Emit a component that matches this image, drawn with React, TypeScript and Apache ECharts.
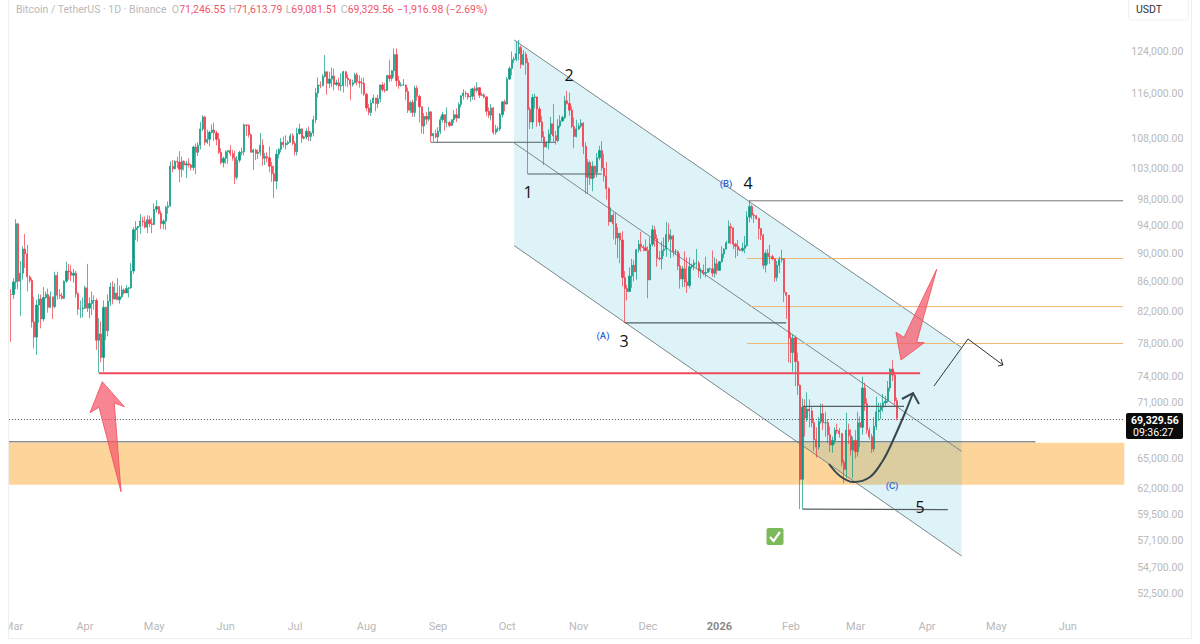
import React, { useEffect, useRef } from "react";
import * as echarts from "echarts";

const FONT = "Roboto, 'Open Sans', sans-serif";

// Daily candles in thousands of USDT: [open, close, low, high]
const feb25 = [[84.3,84.3,78.2,85.0]];
const mar25 = [[84.3,86.0,83.7,86.5],[86.0,94.3,85.0,95.0],[94.3,86.1,85.0,94.4],[86.1,87.2,81.5,88.9],[87.2,90.6,86.3,91.0],[90.6,89.9,87.9,92.8],[89.9,86.7,84.7,91.2],[86.7,86.2,85.9,86.9],[86.2,80.7,80.0,86.5],[80.7,78.8,77.4,84.0],[78.8,82.9,76.6,83.6],[82.9,83.7,80.6,84.4],[83.7,81.1,79.9,84.3],[81.1,83.9,80.8,85.3],[83.9,84.3,83.7,84.7],[84.3,82.6,81.9,85.1],[82.6,84.0,82.5,84.7],[84.0,82.7,81.1,84.0],[82.7,86.9,82.5,87.4],[86.9,84.2,83.6,87.4],[84.2,84.1,83.7,85.0],[84.1,83.8,83.6,84.5],[83.8,86.1,83.7,86.2],[86.1,87.5,85.9,88.8],[87.5,87.4,86.3,88.5],[87.4,86.9,86.1,88.3],[86.9,87.2,85.9,87.8],[87.2,84.4,83.9,87.5],[84.4,82.4,81.6,84.6],[82.4,82.4,81.2,83.5],[82.4,82.5,81.3,83.9]];
const apr25 = [[82.5,85.2,82.4,85.5],[85.2,82.5,82.0,88.5],[82.5,83.1,81.2,83.9],[83.1,83.5,81.6,84.7],[83.5,83.5,82.3,84.2],[83.5,78.4,77.2,83.8],[78.4,79.2,74.5,81.2],[79.2,76.3,75.7,80.8],[76.3,82.6,74.6,83.5],[82.6,79.6,78.4,82.7],[79.6,83.4,78.9,84.3],[83.4,85.3,82.8,85.9],[85.3,83.7,83.0,86.1],[83.7,84.5,83.6,85.8],[84.5,83.6,83.6,86.5],[83.6,84.0,83.1,85.5],[84.0,84.9,83.8,85.5],[84.9,84.5,84.3,85.1],[84.5,85.1,84.5,85.6],[85.1,85.2,83.9,85.3],[85.2,87.5,85.1,88.6],[87.5,93.4,87.1,93.8],[93.4,93.7,91.9,94.7],[93.7,93.9,91.7,94.0],[93.9,94.7,92.8,95.8],[94.7,94.6,93.9,95.3],[94.6,93.8,93.6,95.4],[93.8,94.9,92.9,95.6],[94.9,94.3,93.8,95.5],[94.3,94.2,92.9,95.2]];
const may25 = [[94.2,96.5,94.1,97.4],[96.5,96.9,96.0,97.9],[96.9,95.9,95.7,97.0],[95.9,94.3,93.5,96.3],[94.3,94.7,93.5,95.0],[94.7,96.8,93.4,97.0],[96.8,97.0,95.8,97.7],[97.0,103.3,96.9,104.1],[103.3,102.9,102.3,104.3],[102.9,104.1,102.8,104.3],[104.1,104.0,103.0,104.9],[104.0,102.8,100.7,105.8],[102.8,104.1,101.5,104.9],[104.1,103.5,102.6,104.3],[103.5,103.7,101.4,104.2],[103.7,103.5,103.1,104.6],[103.5,103.1,102.6,103.7],[103.1,106.5,102.6,106.7],[106.5,105.6,102.0,107.1],[105.6,106.8,105.0,107.3],[106.8,109.6,106.1,110.8],[109.6,111.7,109.2,112.0],[111.7,107.3,106.8,111.9],[107.3,107.8,107.0,109.5],[107.8,109.0,106.6,109.3],[109.0,109.4,108.8,110.4],[109.4,108.9,107.5,110.7],[108.9,107.8,106.8,109.3],[107.8,105.6,105.3,108.9],[105.6,103.9,103.6,106.3],[103.9,104.6,103.1,104.9]];
const jun25 = [[104.6,105.7,103.7,105.9],[105.7,105.9,103.7,105.9],[105.9,105.4,105.0,106.8],[105.4,104.7,104.2,106.0],[104.7,101.5,100.4,105.9],[101.5,104.3,101.1,105.0],[104.3,105.6,103.9,105.9],[105.6,105.7,105.1,106.4],[105.7,110.3,105.1,110.5],[110.3,110.2,108.4,110.4],[110.2,108.6,108.1,110.4],[108.6,105.6,105.6,108.8],[105.6,106.0,102.7,106.2],[106.0,105.4,104.3,106.2],[105.4,105.6,104.5,106.1],[105.6,106.8,105.0,108.9],[106.8,104.6,103.4,107.8],[104.6,104.9,103.5,105.5],[104.9,104.7,103.9,105.6],[104.7,103.3,102.3,106.6],[103.3,102.1,100.8,104.0],[102.1,100.9,98.2,103.4],[100.9,105.3,99.6,106.1],[105.3,106.1,104.6,106.3],[106.1,107.3,105.6,108.0],[107.3,106.9,106.4,108.3],[106.9,107.1,106.1,108.5],[107.1,107.3,106.8,107.6],[107.3,108.4,107.2,108.8],[108.4,107.1,106.8,108.8]];
const jul25 = [[107.1,105.7,105.1,107.5],[105.7,108.8,105.1,109.8],[108.8,109.6,108.6,110.5],[109.6,108.0,107.2,109.7],[108.0,108.2,107.8,108.4],[108.2,109.2,107.8,109.7],[109.2,108.3,107.5,110.0],[108.3,108.9,107.5,109.2],[108.9,111.2,108.3,111.9],[111.2,116.0,110.6,116.9],[116.0,117.5,115.2,118.9],[117.5,117.4,116.9,118.2],[117.4,119.1,117.2,119.5],[119.1,120.0,118.9,123.2],[120.0,117.8,115.7,120.0],[117.8,118.6,116.9,120.0],[118.6,119.2,117.1,120.8],[119.2,117.6,116.5,120.6],[117.6,117.9,117.3,118.5],[117.9,117.3,116.5,118.9],[117.3,117.4,116.4,119.7],[117.4,120.0,116.1,120.2],[120.0,118.8,117.3,120.1],[118.8,118.5,117.1,119.5],[118.5,117.6,114.7,118.6],[117.6,117.9,117.2,118.5],[117.9,119.4,117.8,119.8],[119.4,118.1,117.4,119.8],[118.1,117.9,117.0,119.3],[117.9,117.8,115.8,118.8],[117.8,115.8,115.5,118.9]];
const aug25 = [[115.8,113.3,112.7,116.0],[113.3,112.5,112.0,114.0],[112.5,114.2,111.9,114.8],[114.2,115.1,114.1,115.7],[115.1,114.1,112.7,115.1],[114.1,115.0,113.3,115.7],[115.0,117.5,114.3,117.6],[117.5,116.6,116.3,118.0],[116.6,116.5,116.1,117.9],[116.5,119.3,116.5,119.3],[119.3,118.7,118.1,122.3],[118.7,120.2,118.2,120.3],[120.2,123.3,118.9,124.5],[123.3,118.3,117.2,124.5],[118.3,117.4,116.8,119.2],[117.4,117.5,117.2,118.0],[117.5,117.5,117.3,118.6],[117.5,116.3,114.7,117.6],[116.3,112.9,112.4,117.0],[112.9,114.3,112.4,114.6],[114.3,112.5,111.7,114.8],[112.5,116.9,111.7,117.4],[116.9,115.4,114.6,117.4],[115.4,113.5,110.7,115.7],[113.5,110.1,108.8,113.6],[110.1,111.8,108.7,112.4],[111.8,111.3,110.4,112.6],[111.3,112.6,110.9,113.5],[112.6,108.4,107.3,112.7],[108.4,108.8,107.5,108.9],[108.8,108.2,108.0,109.5]];
const sep25 = [[108.2,109.2,107.3,109.9],[109.2,111.2,108.7,111.8],[111.2,112.1,110.7,112.6],[112.1,110.7,109.3,112.2],[110.7,110.7,109.9,113.4],[110.7,110.2,109.9,111.0],[110.2,111.2,110.1,111.3],[111.2,112.1,110.6,112.9],[112.1,111.5,110.8,113.2],[111.5,113.9,111.4,114.3],[113.9,115.5,113.4,115.6],[115.5,116.0,114.8,116.7],[116.0,115.9,115.2,116.4],[115.9,115.3,114.8,116.0],[115.3,115.4,114.4,116.8],[115.4,116.8,114.8,117.0],[116.8,116.5,114.7,117.3],[116.5,117.0,116.1,118.0],[117.0,115.6,115.1,117.1],[115.6,115.7,115.4,116.1],[115.7,115.3,115.0,115.9],[115.3,112.7,111.9,115.4],[112.7,112.0,111.5,113.4],[112.0,113.3,111.1,114.0],[113.3,109.0,108.6,113.5],[109.0,109.6,108.6,110.3],[109.6,109.6,109.1,110.0],[109.6,112.1,109.2,112.4],[112.1,114.4,111.6,114.5],[114.4,114.0,112.7,114.8]];
const oct25 = [[114.0,118.6,113.9,119.0],[118.6,120.6,118.4,121.0],[120.6,122.3,119.3,123.9],[122.3,122.4,121.6,122.9],[122.4,123.5,122.0,125.8],[123.5,124.7,122.2,126.2],[124.7,121.4,120.6,125.1],[121.4,123.3,121.2,124.2],[123.3,121.7,119.4,123.8],[121.7,113.0,102.0,122.6],[113.0,110.8,109.6,113.4],[110.8,115.2,109.6,115.8],[115.2,115.3,113.2,115.9],[115.3,113.1,110.0,113.7],[113.1,110.8,110.1,113.6],[110.8,108.2,107.5,111.9],[108.2,106.5,103.5,109.2],[106.5,107.2,106.4,107.5],[107.2,108.7,106.1,109.5],[108.7,110.5,107.5,111.7],[110.5,108.4,107.4,114.0],[108.4,107.6,106.9,109.2],[107.6,110.1,107.3,111.3],[110.1,111.0,109.7,112.0],[111.0,111.6,110.8,111.9],[111.6,114.6,111.3,115.5],[114.6,114.1,113.9,116.4],[114.1,112.9,111.9,116.1],[112.9,110.0,109.7,113.6],[110.0,108.3,106.3,111.6],[108.3,109.6,108.1,111.2]];
const nov25 = [[109.6,110.1,109.4,110.6],[110.1,110.6,109.8,111.3],[110.6,106.6,105.3,110.8],[106.6,101.5,98.9,107.3],[101.5,103.9,98.9,104.5],[103.9,101.3,100.3,104.2],[101.3,103.3,99.3,104.1],[103.3,102.3,101.4,103.4],[102.3,104.7,101.5,105.5],[104.7,105.9,104.3,106.7],[105.9,103.0,102.5,107.5],[103.0,101.7,100.8,105.3],[101.7,99.7,98.0,104.0],[99.7,94.6,94.0,99.9],[94.6,95.6,94.9,96.8],[95.6,94.3,92.0,96.0],[94.3,92.2,91.2,96.0],[92.2,92.9,89.3,93.8],[92.9,91.9,88.6,92.9],[91.9,86.6,85.4,93.2],[86.6,85.1,80.6,87.5],[85.1,84.7,83.5,85.6],[84.7,86.8,84.7,88.0],[86.8,88.3,85.2,89.2],[88.3,87.4,86.1,89.0],[87.4,90.5,86.3,90.6],[90.5,91.3,90.1,91.9],[91.3,90.9,90.2,93.1],[90.9,90.8,90.3,91.2],[90.8,90.4,90.3,92.0]];
const dec25 = [[90.4,86.3,83.8,91.0],[86.3,91.3,86.2,92.3],[91.3,93.4,91.0,94.1],[93.4,92.1,90.9,94.0],[92.1,89.3,88.1,92.7],[89.3,89.2,89.0,90.3],[89.2,90.4,87.7,91.7],[90.4,90.6,89.6,92.3],[90.6,92.7,89.5,94.6],[92.7,92.0,91.6,94.4],[92.0,92.5,89.3,93.5],[92.5,90.2,89.5,92.7],[90.2,90.2,89.8,90.6],[90.2,88.2,87.6,90.4],[88.2,86.4,85.1,90.0],[86.4,87.8,85.3,88.2],[87.8,86.0,85.3,90.3],[86.0,85.5,84.5,89.4],[85.5,88.1,85.1,89.4],[88.1,88.3,87.8,88.5],[88.3,88.6,87.6,89.1],[88.6,88.6,87.9,90.6],[88.6,87.5,86.6,88.9],[87.5,87.6,86.4,87.9],[87.6,87.2,86.9,88.4],[87.2,87.3,86.6,89.5],[87.3,87.8,87.3,87.9],[87.8,87.8,87.4,88.0],[87.8,87.2,86.7,90.4],[87.2,88.5,86.6,89.4],[88.5,87.6,87.0,89.2]];
const jan26 = [[87.6,88.8,87.5,88.9],[88.8,89.9,88.7,91.0],[89.9,90.6,89.3,90.7],[90.6,91.5,90.5,91.8],[91.5,93.9,91.4,94.8],[93.9,93.7,91.3,94.4],[93.7,91.3,90.6,93.7],[91.3,91.0,89.3,91.5],[91.0,90.5,89.6,91.9],[90.5,90.4,90.4,90.8],[90.4,90.7,90.2,91.5],[90.7,91.1,90.0,92.5],[91.1,95.3,90.9,96.2],[95.3,96.9,94.5,97.9],[96.9,95.6,95.0,97.2],[95.6,95.5,94.4,95.9],[95.5,95.1,94.9,95.6],[95.1,93.6,92.0,95.2],[93.6,92.6,91.9,93.6],[92.6,88.3,87.8,92.8],[88.3,90.0,87.3,90.4],[90.0,89.5,88.4,90.6],[89.5,89.5,88.5,91.2],[89.5,89.2,89.0,89.8],[89.2,86.6,86.0,89.2],[86.6,88.3,86.1,88.9],[88.3,89.1,87.2,89.5],[89.1,89.2,88.7,90.5],[89.2,84.6,83.3,89.2],[84.6,84.2,81.1,84.6],[84.2,78.7,75.7,84.0]];
const feb26 = [[78.7,76.9,75.6,79.4],[76.9,78.7,74.6,79.2],[78.7,75.8,72.9,79.0],[75.8,73.0,71.9,76.9],[73.0,62.9,60.0,73.1],[62.9,70.5,60.0,71.5],[70.5,69.3,67.3,71.4],[69.3,70.3,68.9,72.2],[70.3,70.1,68.3,71.4],[70.1,68.8,68.3,70.5],[68.8,67.0,65.8,69.3],[67.0,66.2,65.1,68.3],[66.2,68.9,65.9,69.4],[68.9,69.8,68.7,70.9],[69.8,68.8,68.0,70.9],[68.8,68.8,67.3,70.0],[68.8,67.5,66.6,69.2],[67.5,66.4,65.7,68.4],[66.4,66.9,65.6,67.3],[66.9,68.0,66.5,68.3],[68.0,67.9,67.6,68.7],[67.9,67.6,67.2,68.2],[67.6,64.6,64.2,67.7],[64.6,63.9,62.5,64.9],[63.9,68.0,63.0,69.9],[68.0,67.4,66.5,68.7],[67.4,65.9,65.3,68.1],[65.9,66.9,63.0,67.3]];
const mar26 = [[66.9,65.7,65.0,68.0],[65.7,68.8,65.2,70.0],[68.8,68.3,66.2,69.5],[68.3,72.7,67.5,74.0],[72.7,70.9,70.1,73.3],[70.9,68.0,67.6,71.5],[68.0,67.3,67.0,68.3],[67.3,66.0,65.6,67.6],[66.0,68.4,65.7,69.4],[68.4,70.0,68.0,71.7],[70.0,70.2,69.0,71.0],[70.2,70.5,69.2,71.0],[70.5,71.0,70.0,72.0],[71.0,71.2,70.5,71.8],[71.2,72.7,71.0,73.5],[72.7,74.9,72.3,75.0],[74.9,74.2,73.5,76.0],[74.2,71.25,70.8,74.6],[71.25,69.33,69.08,71.61]];

const priceTicks = [124000,116000,108000,103000,98000,94000,90000,86000,82000,78000,74000,71000,65000,62000,59500,57100,54700,52500];

const headerName = "Bitcoin / TetherUS · 1D · Binance";
const ohlc = ["71,246.55", "71,613.79", "69,081.51", "69,329.56"];
const change = "−1,916.98 (−2.69%)";
const lastPriceLevel = 69.15;
const lastPriceText = "69,329.56";
const countdown = "09:36:27";

// Drawn annotations: start date, start price, end date, end price
const channelFill = [["2025-10-04",126.2],["2026-04-16",77.5],["2026-04-16",55.7],["2025-10-04",91.1]];
const channelLines = [
  ["2025-10-04",126.2,"2026-04-16",77.5],
  ["2025-10-04",107.2,"2026-04-16",65.75],
  ["2025-10-04",91.1,"2026-04-16",55.7],
];
const greyLevels = [
  ["2025-08-29",107.3,"2025-10-22",107.3],
  ["2025-10-10",102.05,"2025-11-11",102.05],
  ["2025-11-21",80.6,"2026-01-30",80.6],
  ["2026-02-06",70.6,"2026-03-22",70.6],
  ["2026-02-06",60.0,"2026-04-10",59.95],
];
const topLevel = ["2026-01-14",97.8,"2026-06-25",97.8];
const zoneTop = ["2025-02-27",66.75,"2026-05-18",66.75];
const orangeLevels = [
  ["2026-01-13",89.25,"2026-06-25",89.25],
  ["2026-01-14",82.7,"2026-06-25",82.7],
  ["2026-01-13",78.0,"2026-06-25",78.0],
];
const redLevel = ["2025-04-07",74.42,"2026-03-29",74.42];
const zone = [62.35, 66.65];
const waveLabels = [
  { t: "1", x: 528, y: 192 }, { t: "2", x: 569, y: 75 }, { t: "3", x: 624, y: 341 },
  { t: "4", x: 748, y: 183 }, { t: "5", x: 920, y: 507 },
];
const abcLabels = [{ t: "(A)", x: 603, y: 335 }, { t: "(B)", x: 726, y: 183 }, { t: "(C)", x: 892, y: 485 }];

const NBANDS = 484;
const categories: string[] = [];
for (let i = 0; i < NBANDS; i++) {
  categories.push(new Date(Date.UTC(2025, 1, 27 + i)).toISOString().slice(0, 10));
}
const MONTHS = ["Jan","Feb","Mar","Apr","May","Jun","Jul","Aug","Sep","Oct","Nov","Dec"];
const allCandles = [...feb25,...mar25,...apr25,...may25,...jun25,...jul25,...aug25,...sep25,...oct25,...nov25,...dec25,...jan26,...feb26,...mar26];
const candleData: any[] = [["-","-","-","-"], ...allCandles.map((c) => c.map((v) => v * 1000))];

function segSeries(seg: any[], color: string, width: number, type: any = "solid", z = 4) {
  return {
    type: "line", silent: true, symbol: "none", z,
    data: [[seg[0], seg[1] * 1000], [seg[2], seg[3] * 1000]],
    lineStyle: { color, width, type },
  };
}

export default function App() {
  const ref = useRef<HTMLDivElement>(null);
  useEffect(() => {
    const chart = echarts.init(ref.current!, undefined, { renderer: "svg" });
    const gridLeft = 7.7, gridW = 1116.6;
    const option: any = {
      animation: false,
      backgroundColor: "#ffffff",
      grid: { left: gridLeft, top: 0, width: gridW, height: 612, containLabel: false },
      xAxis: {
        type: "category", data: categories, boundaryGap: true,
        axisLine: { show: false }, axisTick: { show: false }, splitLine: { show: false },
        axisLabel: {
          interval: (_i: number, v: string) => v.endsWith("-01"),
          hideOverlap: false, margin: 9,
          color: "#b9b9b9", fontSize: 11, fontFamily: FONT,
          formatter: (v: string) => {
            if (v === "2026-01-01") return "{y|2026}";
            return MONTHS[Number(v.slice(5, 7)) - 1];
          },
          rich: { y: { color: "#8a8a8a", fontWeight: "bold", fontSize: 11, fontFamily: FONT } },
        },
      },
      yAxis: {
        type: "log", position: "right", logBase: 10,
        min: 50970, max: 134440, scale: true,
        axisLine: { show: false }, axisTick: { show: false }, splitLine: { show: false },
        axisLabel: {
          customValues: priceTicks,
          align: "right", margin: 59, color: "#b9b9b9", fontSize: 10.5, fontFamily: FONT,
          formatter: (v: number) => Number(v).toLocaleString("en-US", { minimumFractionDigits: 2, maximumFractionDigits: 2 }),
        },
      },
      series: [
        {
          type: "custom", silent: true, z: 1, clip: true,
          data: [["2025-10-04", 90000]],
          renderItem: (params: any, api: any) => {
            const cs = params.coordSys;
            const yT = api.coord(["2025-10-04", zone[1] * 1000])[1];
            const yB = api.coord(["2025-10-04", zone[0] * 1000])[1];
            return {
              type: "group",
              children: [
                { type: "rect", shape: { x: cs.x, y: yT, width: cs.width, height: yB - yT }, style: { fill: "#fdd49a" } },
                { type: "polygon", shape: { points: channelFill.map((p) => api.coord([p[0], (p[1] as number) * 1000])) }, style: { fill: "rgba(0,160,200,0.13)" } },
              ],
            };
          },
        },
        ...channelLines.map((s) => segSeries(s, "#78878c", 1, "solid", 1.5)),
        segSeries(zoneTop, "#5a5a5a", 1, "solid", 1.5),
        ...orangeLevels.map((s) => segSeries(s, "#eeb674", 1, "solid", 1.5)),
        segSeries(topLevel, "#777777", 1, "solid", 1.5),
        segSeries(["2025-02-27", lastPriceLevel, "2026-06-25", lastPriceLevel], "#444444", 1, [1, 2], 1.5),
        {
          type: "candlestick", z: 2, barWidth: 1.7,
          data: candleData,
          itemStyle: { color: "#089981", color0: "#F23645", borderColor: "#089981", borderColor0: "#F23645", borderWidth: 0.7 },
        },
        ...greyLevels.map((s) => segSeries(s, "#555f63", 1.1)),
        segSeries(redLevel, "#ef4a5c", 2),
      ],
      graphic: [
        // page frame and the panel edges
        { type: "rect", z: 50, shape: { x: 0, y: 0, width: 8, height: 644 }, style: { fill: "#ffffff" } },
        { type: "line", z: 51, shape: { x1: 8.5, y1: 0, x2: 8.5, y2: 638 }, style: { stroke: "#eeeeee", lineWidth: 1 } },
        { type: "line", z: 51, shape: { x1: 1191.5, y1: 0, x2: 1191.5, y2: 638 }, style: { stroke: "#eeeeee", lineWidth: 1 } },
        { type: "line", z: 51, shape: { x1: 8, y1: 638.5, x2: 1192, y2: 638.5 }, style: { stroke: "#eeeeee", lineWidth: 1 } },
        // header
        {
          type: "text", z: 60, x: 16, y: 3,
          style: {
            text: `{g|${headerName}  O}{r|${ohlc[0]}} {g|H}{r|${ohlc[1]}} {g|L}{r|${ohlc[2]}} {g|C}{r|${ohlc[3]}} {r|${change}}`,
            rich: {
              g: { fill: "#b9b9b9", fontSize: 10.5, fontFamily: FONT },
              r: { fill: "#f0566a", fontSize: 10.5, fontFamily: FONT },
            },
          },
        },
        // currency box
        { type: "rect", z: 60, shape: { x: 1128.5, y: -6, width: 60, height: 26, r: 3 }, style: { fill: "#fff", stroke: "#f0f0f0", lineWidth: 1 } },
        { type: "text", z: 61, x: 1136, y: 4, style: { text: "USDT", fill: "#333333", fontSize: 10.5, fontFamily: FONT } },
        // last price tag
        { type: "rect", z: 60, shape: { x: 1126, y: 413, width: 57, height: 26, r: 2 }, style: { fill: "#0a0a0a" } },
        { type: "text", z: 61, x: 1131, y: 414.5, style: { text: lastPriceText, fill: "#ffffff", fontSize: 10.5, fontWeight: "bold", fontFamily: FONT } },
        { type: "text", z: 61, x: 1133, y: 426.5, style: { text: countdown, fill: "#ffffff", fontSize: 10.5, fontFamily: FONT } },
        // hand drawn arrows
        {
          type: "polygon", z: 20,
          shape: { points: [[102.3,381.7],[124.3,406.7],[114.3,403],[121,491.7],[99,407.3],[90,412.7]] },
          style: { fill: "rgba(245,88,104,0.72)", stroke: "rgba(240,80,95,0.85)", lineWidth: 1 },
        },
        {
          type: "polygon", z: 20,
          shape: { points: [[936.7,269.3],[916.7,342.3],[924.3,342.7],[901,360],[896,332.3],[904,337.3]] },
          style: { fill: "rgba(245,88,104,0.72)", stroke: "rgba(240,80,95,0.85)", lineWidth: 1 },
        },
        { type: "polyline", z: 20, shape: { points: [[934,386],[968,339],[1003,365]] }, style: { stroke: "#333333", lineWidth: 1, fill: "none" } },
        { type: "polyline", z: 20, shape: { points: [[998,366],[1003,365],[1001,359]] }, style: { stroke: "#333333", lineWidth: 1, fill: "none" } },
        {
          type: "polyline", z: 20,
          shape: { points: [[829,464],[840,476],[853,482],[870,477],[882,462],[890,447],[905,413],[913,393]], smooth: 0.35 },
          style: { stroke: "#36474f", lineWidth: 2, fill: "none" },
        },
        { type: "polyline", z: 20, shape: { points: [[902,399],[913,393],[919,404]] }, style: { stroke: "#36474f", lineWidth: 2, fill: "none" } },
        // wave counts
        ...waveLabels.map((l) => ({
          type: "text", z: 22, x: l.x, y: l.y,
          style: { text: l.t, fill: "#111111", fontSize: 16, fontFamily: "'Open Sans', sans-serif", align: "center", verticalAlign: "middle" },
        })),
        ...abcLabels.map((l) => ({
          type: "text", z: 22, x: l.x, y: l.y,
          style: { text: l.t, fill: "#2f67d8", fontSize: 9.5, fontWeight: 500, fontFamily: FONT, align: "center", verticalAlign: "middle" },
        })),
        // check mark badge
        { type: "rect", z: 22, shape: { x: 766.5, y: 528, width: 17, height: 17, r: 2 }, style: { fill: "#7cb95b" } },
        { type: "polyline", z: 23, shape: { points: [[770,537],[773.5,541],[780,532]] }, style: { stroke: "#ffffff", lineWidth: 2.2, fill: "none" } },
      ],
    };
    chart.setOption(option);
    return () => chart.dispose();
  }, []);
  return <div ref={ref} style={{ position: "fixed", left: 0, top: 0, width: 1200, height: 644, background: "#fff" }} />;
}
